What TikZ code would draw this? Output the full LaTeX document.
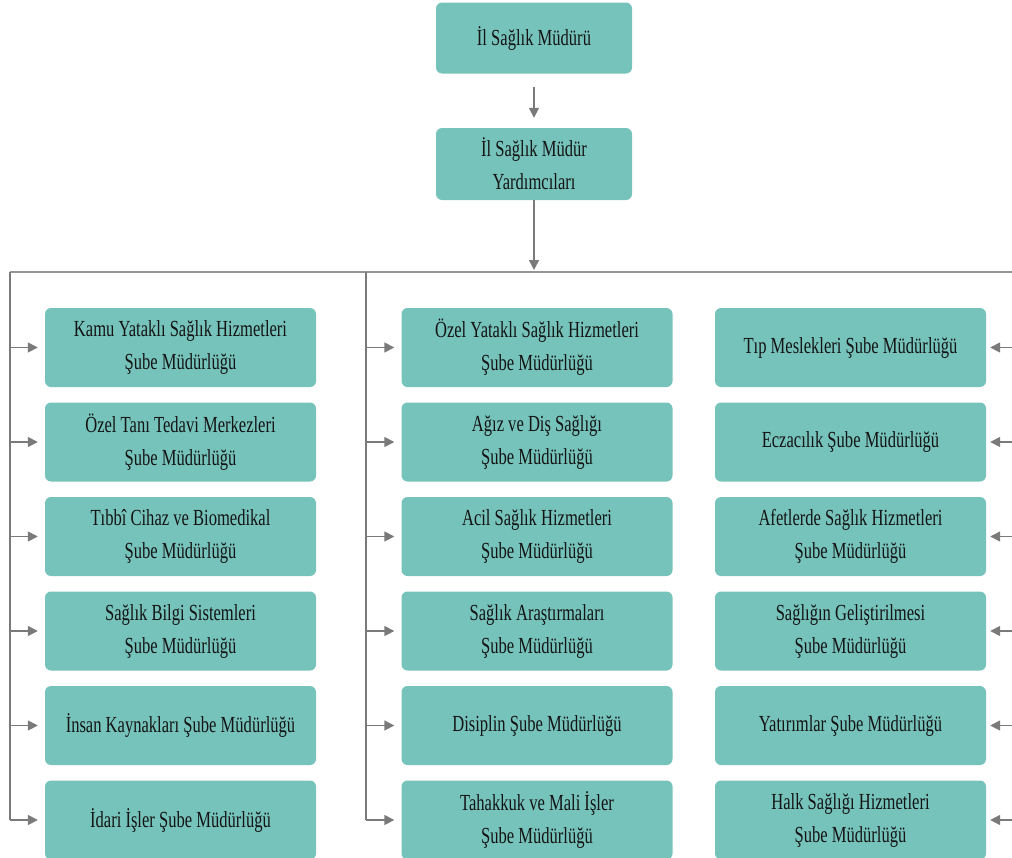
\documentclass[tikz,border=0pt]{standalone}
\usepackage{fontspec}
\setmainfont{Liberation Serif}[FakeStretch=0.72]
\usepackage{tikz}
\usetikzlibrary{arrows.meta}
\definecolor{kutu}{HTML}{76C3BB}
\definecolor{cizgi}{HTML}{7A7A7A}
\definecolor{yazi}{HTML}{141414}

\begin{document}
\begin{tikzpicture}[x=1pt, y=-1pt,
		birim/.style={fill=kutu, rounded corners=6pt, minimum width=271pt, minimum height=79pt,
			align=center, text=yazi, font=\fontsize{23}{33}\selectfont, inner sep=0pt},
		ok/.style={draw=cizgi, line width=1.6pt, -{Triangle[length=10pt, width=10pt]}, shorten >=7pt},
		hat/.style={draw=cizgi, line width=1.6pt}]
			\useasboundingbox (0,0) rectangle (1012,857);
			\node[birim, minimum height=71pt, minimum width=196pt] (mudur) at (534,38) {İl Sağlık Müdürü};
			\node[birim, minimum height=72pt, minimum width=196pt] (yardimci) at (534,164) {İl Sağlık Müdür\\Yardımcıları};
			\coordinate (bus) at (534,272);
			\coordinate (solhat) at (10,272);
			\coordinate (ortahat) at (366,272);
			\coordinate (saghat) at (1012,272);
			\draw[ok, shorten <=13pt, shorten >=10pt] (mudur) -- (yardimci);
			\draw[ok, shorten >=2pt] (yardimci) -- (bus);
			\draw[hat, line width=2pt, draw=cizgi!80] (solhat) -- (saghat);
			% sol sutun
			\foreach \t [count=\i] in {{Kamu Yataklı Sağlık Hizmetleri\\Şube Müdürlüğü},
					{Özel Tanı Tedavi Merkezleri\\Şube Müdürlüğü},
					{Tıbbî Cihaz ve Biomedikal\\Şube Müdürlüğü},
					{Sağlık Bilgi Sistemleri\\Şube Müdürlüğü},
					{İnsan Kaynakları Şube Müdürlüğü},
					{İdari İşler Şube Müdürlüğü}}
				\node[birim] (sol\i) at (180.5, 253+94.5*\i) {\t};
			% orta sutun
			\foreach \t [count=\i] in {{Özel Yataklı Sağlık Hizmetleri\\Şube Müdürlüğü},
					{Ağız ve Diş Sağlığı\\Şube Müdürlüğü},
					{Acil Sağlık Hizmetleri\\Şube Müdürlüğü},
					{Sağlık Araştırmaları\\Şube Müdürlüğü},
					{Disiplin Şube Müdürlüğü},
					{Tahakkuk ve Mali İşler\\Şube Müdürlüğü}}
				\node[birim] (orta\i) at (537, 253+94.5*\i) {\t};
			% sag sutun
			\foreach \t [count=\i] in {{Tıp Meslekleri Şube Müdürlüğü},
					{Eczacılık Şube Müdürlüğü},
					{Afetlerde Sağlık Hizmetleri\\Şube Müdürlüğü},
					{Sağlığın Geliştirilmesi\\Şube Müdürlüğü},
					{Yatırımlar Şube Müdürlüğü},
					{Halk Sağlığı Hizmetleri\\Şube Müdürlüğü}}
				\node[birim] (sag\i) at (850.5, 253+94.5*\i) {\t};
			\draw[hat] (solhat) -- (solhat |- sol6.west);
			\draw[hat] (ortahat) -- (ortahat |- orta6.west);
			\foreach \i in {1, ..., 6}
			{
				\draw[ok] (solhat |- sol\i.west) -- (sol\i.west);
				\draw[ok] (ortahat |- orta\i.west) -- (orta\i.west);
				\draw[ok, shorten >=4pt] (saghat |- sag\i.east) -- (sag\i.east);
			}
		\end{tikzpicture}
\end{document}
